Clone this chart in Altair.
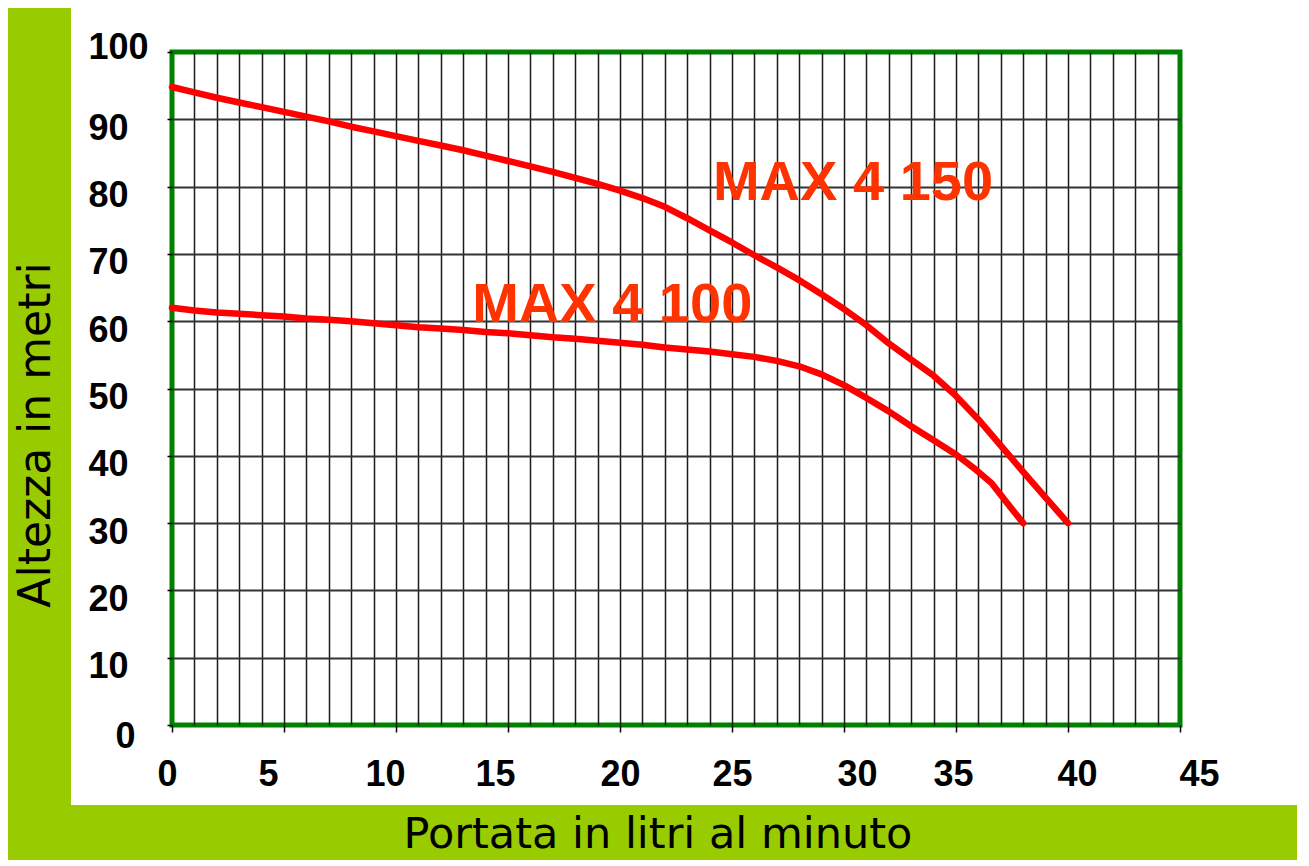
import altair as alt
import pandas as pd

# ---- data ----
flow_150 = list(range(0, 41))
head_150 = [94.8, 94.0, 93.2, 92.5, 91.8, 91.1, 90.4, 89.7, 88.9, 88.2,
            87.5, 86.8, 86.1, 85.4, 84.6, 83.8, 83.0, 82.2, 81.3, 80.4,
            79.4, 78.3, 77.0, 75.3, 73.5, 71.7, 69.8, 68.0, 66.1, 64.0,
            61.8, 59.4, 56.7, 54.3, 51.9, 48.9, 45.4, 41.5, 37.6, 33.8, 30.0]

flow_100 = list(range(0, 36)) + [35.9, 36.6, 37.3, 38]
head_100 = [62.0, 61.6, 61.3, 61.1, 60.9, 60.7, 60.4, 60.2, 60.0, 59.7,
            59.4, 59.1, 58.9, 58.7, 58.4, 58.2, 57.9, 57.6, 57.4, 57.1,
            56.8, 56.5, 56.1, 55.8, 55.5, 55.1, 54.7, 54.1, 53.3, 52.1,
            50.5, 48.6, 46.6, 44.4, 42.3, 40.2, 37.9, 35.9, 32.9, 30.0]

labels = ["MAX 4 150", "MAX 4 100"]
label_flow = [24.15, 13.4]
label_head = [78.0, 59.9]

x_ticks = list(range(0, 46))
y_ticks = list(range(0, 101, 10))

x_title = "Portata in litri al minuto"
y_title = "Altezza in metri"

# ---- tables ----
curves = pd.DataFrame({
    "flow": flow_150 + flow_100,
    "head": head_150 + head_100,
    "model": ["MAX 4 150"] * len(flow_150) + ["MAX 4 100"] * len(flow_100),
})
ann = pd.DataFrame({"flow": label_flow, "head": label_head, "label": labels})
one = pd.DataFrame({"a": [0]})

W, H = 1008, 673
GREEN_BAND = "#99CC00"
TICK_FONT = "Liberation Sans"
TITLE_FONT = "DejaVu Sans"

# small per-label horizontal shifts seen in the reference
x_label_shift = [
    {"test": "datum.value == 0", "value": -5},
    {"test": "datum.value == 5", "value": -16},
    {"test": "datum.value == 10", "value": -11},
    {"test": "datum.value == 15", "value": -13},
    {"test": "datum.value == 30", "value": 13},
    {"test": "datum.value == 35", "value": -3},
    {"test": "datum.value == 40", "value": 9},
    {"test": "datum.value == 45", "value": 19},
]

x_enc = alt.X(
    "flow:Q",
    scale=alt.Scale(domain=[0, 45], nice=False, zero=False),
    axis=alt.Axis(
        values=x_ticks,
        labelExpr="datum.value % 5 == 0 ? datum.label : ''",
        tickOpacity={"condition": {"test": "datum.value % 5 == 0", "value": 1}, "value": 0},
        tickSize=7, tickColor="black", tickWidth=1.5,
        labelFont=TICK_FONT, labelFontSize=36, labelFontWeight="bold", labelColor="black",
        labelPadding=25, labelFlush=False, labelOverlap=False, labelBound=False,
        labelOffset={"condition": x_label_shift, "value": 0},
        grid=True, gridColor="#1a1a1a", gridWidth=1.5,
        gridOpacity={"condition": {"test": "datum.value == 0 || datum.value == 45", "value": 0}, "value": 1},
        domain=False, title=None,
    ),
)

y_enc = alt.Y(
    "head:Q",
    scale=alt.Scale(domain=[0, 100], nice=False, zero=True),
    axis=alt.Axis(
        values=y_ticks,
        tickSize=5, tickColor="black", tickWidth=1.5,
        labelFont=TICK_FONT, labelFontSize=36, labelFontWeight="bold", labelColor="black",
        labelAlign="left", labelBaseline="middle",
        labelPadding={"condition": {"test": "datum.value == 0", "value": 52}, "value": 79},
        labelOffset={"condition": [{"test": "datum.value == 100", "value": -5},
                                   {"test": "datum.value == 0", "value": 11}], "value": 9},
        labelFlush=False, labelOverlap=False, labelBound=False,
        grid=True, gridColor="#333333", gridWidth=2,
        gridOpacity={"condition": {"test": "datum.value == 0 || datum.value == 100", "value": 0}, "value": 1},
        domain=False, title=None,
    ),
)

band_left = alt.Chart(one).mark_rect(color=GREEN_BAND).encode(
    x=alt.value(-175), x2=alt.value(-101), y=alt.value(-60), y2=alt.value(830)
)
band_bottom = alt.Chart(one).mark_rect(color=GREEN_BAND).encode(
    x=alt.value(-175), x2=alt.value(1150), y=alt.value(753), y2=alt.value(830)
)

y_title_mark = alt.Chart(one).mark_text(
    text=y_title, font=TITLE_FONT, fontSize=44, color="black",
    angle=270, align="center", baseline="alphabetic"
).encode(x=alt.value(-122), y=alt.value(383))

x_title_mark = alt.Chart(one).mark_text(
    text=x_title, font=TITLE_FONT, fontSize=43, color="black",
    align="center", baseline="alphabetic"
).encode(x=alt.value(486), y=alt.value(796))

lines = alt.Chart(curves).mark_line(
    color="#FF0000", strokeWidth=6.5, strokeJoin="round", strokeCap="round"
).encode(x=x_enc, y=y_enc, detail="model:N")

text = alt.Chart(ann).mark_text(
    align="left", baseline="alphabetic", font=TICK_FONT,
    fontWeight="bold", fontSize=56, color="#FF3300"
).encode(x=x_enc, y=y_enc, text="label:N")

chart = alt.layer(band_left, band_bottom, y_title_mark, x_title_mark, lines, text).properties(
    width=W, height=H,
    autosize=alt.AutoSizeParams(type="none"),
    padding={"left": 164, "top": 44, "right": 117, "bottom": 135},
    background="white",
).configure_view(stroke="#008000", strokeWidth=5, fill="white")

chart.save("out.html", embed_options={"renderer": "svg", "actions": False})
